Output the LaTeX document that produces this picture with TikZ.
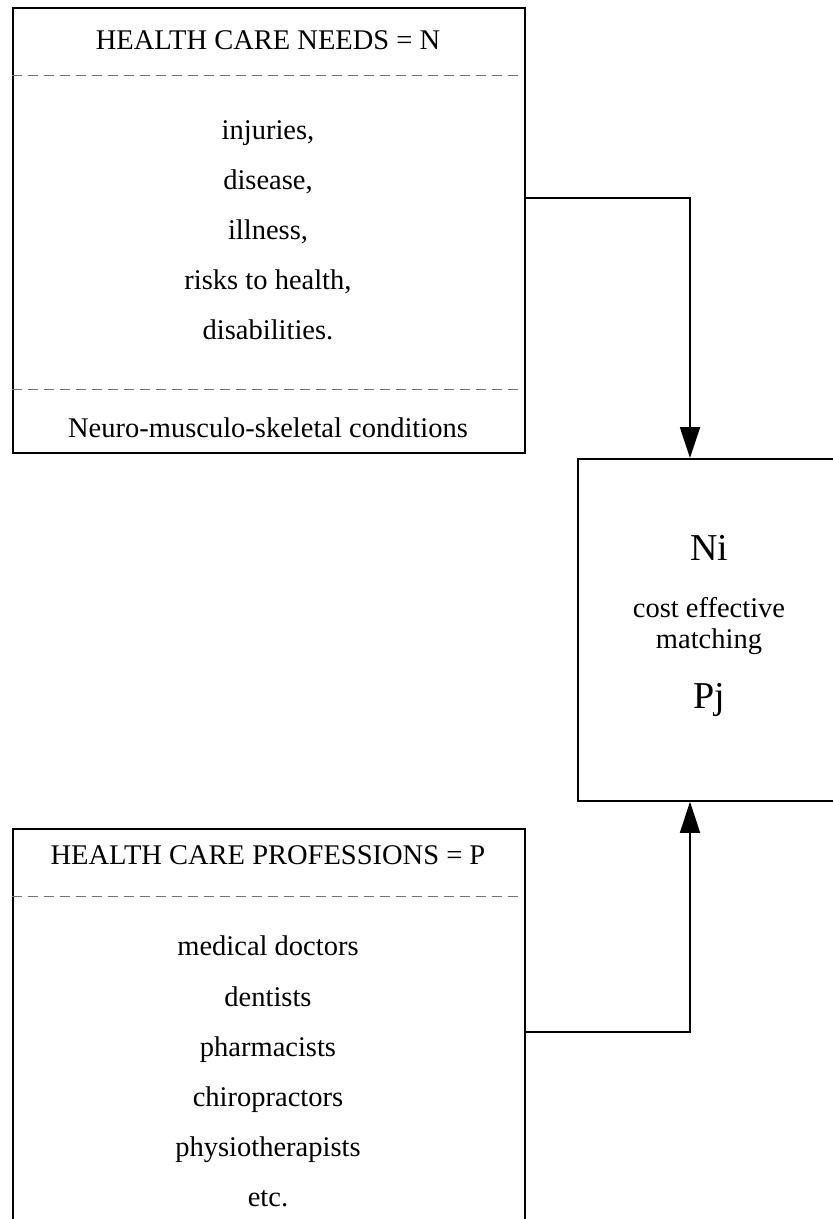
\documentclass[tikz,border=0pt]{standalone}
\usepackage{fontspec}
\setmainfont{Liberation Serif}
\usetikzlibrary{arrows.meta}
\usetikzlibrary{positioning}

\tikzset{
  box/.style={draw, line width=1.8pt, inner sep=0pt},
  sep/.style={draw=black!55, line width=1pt, dash pattern=on 10pt off 6pt},
  txt/.style={font=\fontsize{28.5}{33}\selectfont, inner sep=0pt,
    text height=0.72em, text depth=0.22em},
  big/.style={font=\fontsize{38}{42}\selectfont, inner sep=0pt,
    text height=0.72em, text depth=0.22em},
  link/.style={line width=1.8pt, -{Triangle[width=20pt,length=31pt]}},
}

\begin{document}
\begin{tikzpicture}[x=1pt,y=-1pt]
  \useasboundingbox (0,0) rectangle (833,1219);
  \clip (0,0) rectangle (833,1219);

  % needs
  \node[box, minimum width=512pt, minimum height=445pt, anchor=north west] (needs) at (12,7) {};
  \node[txt] (needsT) at (268,47) {HEALTH CARE NEEDS = N};
  \draw[sep] (12,75) -- (524,75);
  \node[txt] (inj) at (268,137) {injuries,};
  \node[txt] (dis) at (268,187) {disease,};
  \node[txt] (ill) at (268,237) {illness,};
  \node[txt] (risk) at (268,287) {risks to health,};
  \node[txt] (disab) at (268,337) {disabilities.};
  \draw[sep] (12,389) -- (524,389);
  \node[txt] (nms) at (268,435) {Neuro-musculo-skeletal conditions};

  % matching
  \node[box, minimum width=264pt, minimum height=342pt, anchor=north west] (match) at (577,458) {};
  \node[big] (ni) at (709,558) {Ni};
  \node[txt] (cost) at (709,615) {cost effective};
  \node[txt] (mat) at (709,646) {matching};
  \node[big] (pj) at (709,706) {Pj};

  % professions
  \node[box, minimum width=512pt, minimum height=430pt, anchor=north west] (prof) at (12,828) {};
  \node[txt] (profT) at (268,862) {HEALTH CARE PROFESSIONS = P};
  \draw[sep] (12,896) -- (524,896);
  \node[txt] (md) at (268,953) {medical doctors};
  \node[txt] (dent) at (268,1004) {dentists};
  \node[txt] (pharm) at (268,1054) {pharmacists};
  \node[txt] (chiro) at (268,1104) {chiropractors};
  \node[txt] (physio) at (268,1154) {physiotherapists};
  \node[txt] (etc) at (268,1204) {etc.};

  % connectors
  \coordinate (bendN) at (690,198);
  \coordinate (bendP) at (690,1032);
  \draw[link] (needs.east |- bendN) -- (bendN) -- (bendN |- match.north);
  \draw[link] (prof.east |- bendP) -- (bendP) -- (bendP |- match.south);
\end{tikzpicture}
\end{document}
